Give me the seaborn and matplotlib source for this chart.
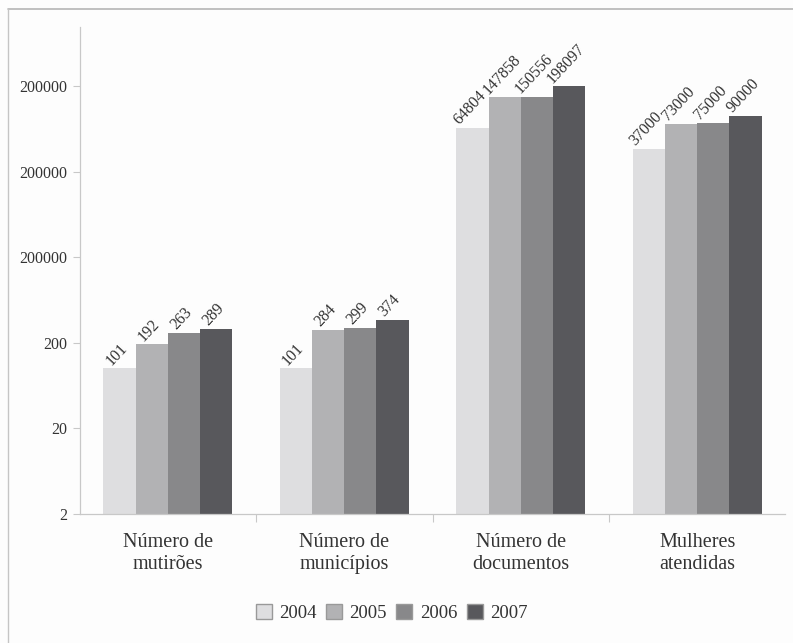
import numpy as np
import pandas as pd
import matplotlib
matplotlib.use("Agg")
import matplotlib.pyplot as plt
from matplotlib.lines import Line2D
from matplotlib.ticker import FixedLocator, NullFormatter
import seaborn as sns

# ---- data ----
categories = ["Número de\nmutirões", "Número de\nmunicípios",
              "Número de\ndocumentos", "Mulheres\natendidas"]
years = ["2004", "2005", "2006", "2007"]
values_2004 = [101, 101, 64804, 37000]
values_2005 = [192, 284, 147858, 73000]
values_2006 = [263, 299, 150556, 75000]
values_2007 = [289, 374, 198097, 90000]
ytick_values = [2, 20, 200, 2000, 20000, 200000]
ytick_labels = ["2", "20", "200", "200000", "200000", "200000"]
colors = ["#dedee0", "#b2b2b4", "#88888a", "#58585c"]

series = [values_2004, values_2005, values_2006, values_2007]
df = pd.DataFrame({
    "categoria": [c for s in series for c in categories],
    "ano": [y for y, s in zip(years, series) for _ in s],
    "valor": [v for s in series for v in s],
})

sns.set_theme(style="white")
plt.rcParams["font.family"] = ["Liberation Serif", "DejaVu Serif"]
text_color = "#333333"
edge_gray = "#c8c8c8"

fig = plt.figure(figsize=(7.93, 6.43), dpi=100, facecolor="#fdfdfd")
ax = fig.add_axes([0.1003, 0.2006, 0.8902, 0.7574])
ax.set_facecolor("#fdfdfd")

sns.barplot(data=df, x="categoria", y="valor", hue="ano", order=categories,
            hue_order=years, palette=colors, width=0.73, linewidth=0,
            saturation=1, ax=ax, legend=True)

ax.set_yscale("log")
ax.set_ylim(2, 9.8e5)
ax.set_xlim(-0.5, 3.5)

ax.yaxis.set_major_locator(FixedLocator(ytick_values))
ax.set_yticklabels(ytick_labels)
ax.yaxis.set_minor_formatter(NullFormatter())
ax.yaxis.set_minor_locator(FixedLocator([]))
ax.tick_params(axis="y", which="major", left=True, length=5, width=0.8,
               color=edge_gray, labelsize=11.5, labelcolor=text_color, pad=4)

ax.set_xticks(range(len(categories)))
ax.set_xticklabels(categories, fontsize=14.5, color=text_color, linespacing=1.2)
ax.xaxis.set_minor_locator(FixedLocator([0.5, 1.5, 2.5]))
ax.tick_params(axis="x", which="major", length=0, pad=14)
ax.tick_params(axis="x", which="minor", bottom=True, length=6, width=0.8,
               color=edge_gray)

ax.set_xlabel("")
ax.set_ylabel("")
for side in ["top", "right"]:
    ax.spines[side].set_visible(False)
for side in ["left", "bottom"]:
    ax.spines[side].set_color(edge_gray)
    ax.spines[side].set_linewidth(0.9)

# value labels on top of every bar
for container in ax.containers:
    for bar in container:
        h = bar.get_height()
        ax.annotate(f"{int(round(h))}",
                    xy=(bar.get_x() + bar.get_width() / 2, h),
                    xytext=(-2, 0), textcoords="offset points",
                    rotation=47, ha="center", va="bottom",
                    fontsize=11.5, color=text_color)

# legend below the plot
leg = ax.get_legend()
handles = leg.legend_handles
leg.remove()
for h in handles:
    h.set_edgecolor("#999999")
    h.set_linewidth(1.0)
fig.legend(handles, years, loc="center", bbox_to_anchor=(0.494, 0.047),
           ncol=4, frameon=False, fontsize=13.5, handlelength=0.85,
           handleheight=0.85, handletextpad=0.4, columnspacing=0.5,
           labelcolor=text_color)

# outer frame lines (top and left)
fig.add_artist(Line2D([8 / 793, 1.0], [1 - 9 / 643, 1 - 9 / 643],
                      transform=fig.transFigure, color="#b5b5b5", lw=1.2))
fig.add_artist(Line2D([8 / 793, 8 / 793], [0.0, 1 - 9 / 643],
                      transform=fig.transFigure, color="#c5c5c5", lw=1.0))

fig.savefig("out.png", dpi=100, facecolor=fig.get_facecolor())
